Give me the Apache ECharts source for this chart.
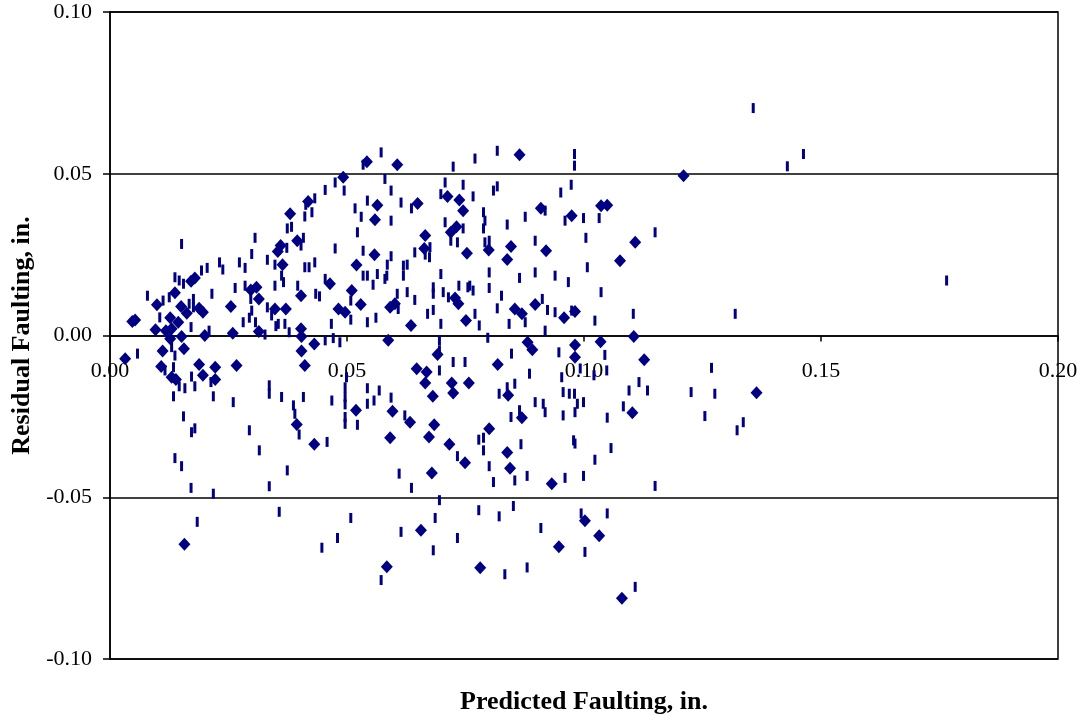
<!DOCTYPE html>
<html>
<head>
<meta charset="utf-8">
<script src="https://cdn.jsdelivr.net/npm/echarts@6/dist/echarts.min.js"></script>
<style>
  html, body { margin: 0; padding: 0; background: #fff; }
  #chart { width: 1079px; height: 717px; }
</style>
</head>
<body>
<div id="chart"></div>
<script>
// Residual vs. predicted faulting (in.) — two point sets
const xTicks = [0.00, 0.05, 0.10, 0.15, 0.20];
const yTicks = [-0.10, -0.05, 0.00, 0.05, 0.10];

// [predicted, residual] — diamond markers
const diamondPoints = [
  [0.0492,0.0489],[0.0418,0.0414],[0.0380,0.0376],[0.0395,0.0293],[0.0360,0.0278],[0.0354,0.0260],
  [0.0364,0.0219],[0.0171,0.0168],[0.0179,0.0178],[0.0309,0.0149],[0.0297,0.0141],[0.0314,0.0113],
  [0.0464,0.0160],[0.0403,0.0123],[0.0137,0.0132],[0.0099,0.0095],[0.0150,0.0090],[0.0162,0.0069],
  [0.0188,0.0084],[0.0196,0.0072],[0.0255,0.0090],[0.0348,0.0082],[0.0371,0.0082],[0.0482,0.0082],
  [0.0053,0.0048],[0.0047,0.0043],[0.0127,0.0055],[0.0144,0.0041],[0.0403,0.0021],[0.0404,-0.0003],
  [0.0096,0.0018],[0.0118,0.0015],[0.0130,0.0021],[0.0127,-0.0010],[0.0151,-0.0003],[0.0200,0.0000],
  [0.0259,0.0007],[0.0314,0.0012],[0.0431,-0.0026],[0.0156,-0.0041],[0.0111,-0.0048],[0.0032,-0.0072],
  [0.0404,-0.0048],[0.0108,-0.0096],[0.0188,-0.0090],[0.0222,-0.0098],[0.0267,-0.0093],[0.0411,-0.0093],
  [0.0196,-0.0123],[0.0130,-0.0129],[0.0139,-0.0136],[0.0222,-0.0136],[0.0394,-0.0275],[0.0431,-0.0336],
  [0.0157,-0.0645],
  [0.0542,0.0537],[0.0606,0.0528],[0.0864,0.0559],[0.0564,0.0403],[0.0649,0.0408],[0.0712,0.0430],
  [0.0737,0.0419],[0.0745,0.0386],[0.0909,0.0393],[0.0974,0.0370],[0.0559,0.0358],[0.0731,0.0336],
  [0.0719,0.0319],[0.0665,0.0309],[0.0846,0.0275],[0.0920,0.0262],[0.0799,0.0264],[0.0663,0.0269],
  [0.0753,0.0254],[0.0558,0.0250],[0.0838,0.0235],[0.0520,0.0218],
  [0.0728,0.0116],[0.0735,0.0098],[0.0510,0.0139],[0.0529,0.0096],[0.0496,0.0072],[0.0591,0.0087],
  [0.0601,0.0098],[0.0635,0.0031],[0.0751,0.0046],[0.0854,0.0082],[0.0869,0.0067],[0.0897,0.0096],
  [0.0958,0.0055],[0.0587,-0.0015],[0.0691,-0.0059],[0.0881,-0.0021],[0.0891,-0.0044],[0.0647,-0.0103],
  [0.0668,-0.0113],[0.0665,-0.0147],[0.0721,-0.0147],[0.0757,-0.0147],[0.0818,-0.0090],[0.0681,-0.0188],
  [0.0724,-0.0178],[0.0840,-0.0185],[0.0519,-0.0231],[0.0596,-0.0234],[0.0633,-0.0268],[0.0684,-0.0276],
  [0.0800,-0.0288],[0.0869,-0.0254],
  [0.0591,-0.0316],[0.0673,-0.0314],[0.0716,-0.0336],[0.0749,-0.0393],[0.0838,-0.0362],[0.0844,-0.0410],
  [0.0679,-0.0425],[0.0932,-0.0458],[0.0656,-0.0602],[0.0947,-0.0653],[0.0584,-0.0715],[0.0781,-0.0718],
  [0.1210,0.0494],[0.1036,0.0401],[0.1049,0.0403],[0.1108,0.0288],[0.1076,0.0231],[0.0981,0.0074],
  [0.1105,-0.0003],[0.0981,-0.0029],[0.1035,-0.0019],[0.0981,-0.0067],[0.1127,-0.0075],[0.1364,-0.0177],
  [0.1102,-0.0239],[0.1002,-0.0573],[0.1032,-0.0619],[0.1080,-0.0812]
];

// [predicted, residual] — short vertical dash markers
const dashPoints = [
  [0.0475,0.0473],[0.0494,0.0448],[0.0454,0.0450],[0.0432,0.0424],[0.0413,0.0404],[0.0426,0.0381],
  [0.0411,0.0368],[0.0383,0.0336],[0.0374,0.0331],[0.0306,0.0302],[0.0151,0.0283],[0.0408,0.0302],
  [0.0403,0.0278],[0.0373,0.0271],[0.0299,0.0252],[0.0332,0.0234],[0.0231,0.0226],[0.0273,0.0226],
  [0.0285,0.0209],[0.0348,0.0219],[0.0475,0.0269],[0.0432,0.0226],[0.0411,0.0211],[0.0420,0.0211],
  [0.0205,0.0209],[0.0193,0.0201],[0.0238,0.0204],
  [0.0137,0.0180],[0.0146,0.0170],[0.0155,0.0160],[0.0362,0.0185],[0.0366,0.0165],[0.0348,0.0154],
  [0.0264,0.0147],[0.0285,0.0154],[0.0297,0.0113],[0.0396,0.0154],[0.0454,0.0175],[0.0434,0.0129],
  [0.0442,0.0121],[0.0079,0.0123],[0.0125,0.0118],[0.0112,0.0108],[0.0176,0.0113],[0.0215,0.0129],
  [0.0167,0.0098],[0.0176,0.0087],[0.0299,0.0077],[0.0332,0.0087],[0.0341,0.0062],[0.0355,0.0036],
  [0.0369,0.0036],[0.0350,0.0029],[0.0105,0.0056],[0.0171,0.0026],[0.0281,0.0041],[0.0294,0.0055],
  [0.0307,0.0041],[0.0467,0.0036],[0.0378,0.0010],[0.0209,0.0015],[0.0327,0.0003],[0.0454,-0.0015],
  [0.0471,-0.0008],[0.0485,-0.0021],[0.0130,-0.0036],[0.0137,-0.0062],[0.0058,-0.0056],[0.0134,-0.0098],
  [0.0116,-0.0108],[0.0172,-0.0127],[0.0213,-0.0144],[0.0146,-0.0157],[0.0158,-0.0163],[0.0179,-0.0157],
  [0.0336,-0.0154],[0.0336,-0.0180],[0.0134,-0.0188],[0.0218,-0.0188],[0.0260,-0.0206],[0.0362,-0.0190],
  [0.0408,-0.0190],[0.0468,-0.0201],[0.0496,-0.0190],[0.0387,-0.0216],[0.0390,-0.0242],[0.0155,-0.0250],
  [0.0496,-0.0252],[0.0294,-0.0293],
  [0.0172,-0.0299],[0.0179,-0.0287],[0.0399,-0.0306],[0.0458,-0.0329],[0.0315,-0.0355],[0.0137,-0.0379],
  [0.0151,-0.0404],[0.0374,-0.0417],[0.0171,-0.0471],[0.0218,-0.0489],[0.0336,-0.0466],[0.0357,-0.0545],
  [0.0184,-0.0576],[0.0480,-0.0626],[0.0447,-0.0656],
  [0.0572,0.0566],[0.0534,0.0528],[0.0724,0.0522],[0.0770,0.0547],[0.0817,0.0571],[0.0980,0.0561],
  [0.0980,0.0525],[0.0580,0.0484],[0.0593,0.0448],[0.0707,0.0473],[0.0745,0.0466],[0.0817,0.0461],
  [0.0809,0.0448],[0.0973,0.0466],[0.0951,0.0442],[0.0543,0.0417],[0.0517,0.0393],[0.0614,0.0411],
  [0.0636,0.0393],[0.0698,0.0437],[0.0766,0.0430],[0.0788,0.0381],[0.0918,0.0386],[0.0876,0.0367],
  [0.0960,0.0355],[0.0530,0.0367],[0.0593,0.0355],[0.0707,0.0350],[0.0745,0.0331],[0.0791,0.0355],
  [0.0788,0.0331],[0.0838,0.0343],[0.0522,0.0319],[0.0719,0.0293],[0.0733,0.0288],[0.0897,0.0293],
  [0.0791,0.0288],[0.0800,0.0293],[0.0675,0.0273],[0.0665,0.0250],[0.0674,0.0242],[0.0643,0.0257],
  [0.0534,0.0262],[0.0593,0.0245],[0.0585,0.0219],[0.0619,0.0216],[0.0627,0.0219],
  [0.0698,0.0190],[0.0800,0.0195],[0.0897,0.0195],[0.0939,0.0185],[0.0967,0.0165],[0.0534,0.0185],
  [0.0543,0.0185],[0.0564,0.0190],[0.0584,0.0185],[0.0580,0.0175],[0.0619,0.0185],[0.0555,0.0157],
  [0.0864,0.0178],[0.0682,0.0149],[0.0682,0.0129],[0.0703,0.0134],[0.0714,0.0118],[0.0736,0.0154],
  [0.0755,0.0149],[0.0759,0.0154],[0.0766,0.0139],[0.0800,0.0147],[0.0826,0.0123],[0.0508,0.0108],
  [0.0508,0.0049],[0.0543,0.0041],[0.0561,0.0055],[0.0606,0.0129],[0.0627,0.0134],[0.0643,0.0110],
  [0.0608,0.0082],[0.0670,0.0067],[0.0682,0.0079],[0.0770,0.0067],[0.0779,0.0031],[0.0698,0.0036],
  [0.0817,0.0084],[0.0912,0.0113],[0.0923,0.0079],[0.0939,0.0072],[0.0974,0.0077],[0.0876,0.0041],
  [0.0842,0.0036],[0.0918,0.0015],[0.0797,-0.0007],[0.0695,-0.0015],[0.0695,-0.0046],[0.0847,-0.0056],
  [0.0947,-0.0052],[0.0724,-0.0082],[0.0749,-0.0082],[0.0695,-0.0108],[0.0885,-0.0118],[0.0953,-0.0129],
  [0.0499,-0.0129],[0.0543,-0.0163],[0.0568,-0.0170],[0.0496,-0.0160],[0.0593,-0.0192],[0.0557,-0.0201],
  [0.0543,-0.0211],[0.0821,-0.0180],[0.0838,-0.0160],[0.0854,-0.0149],[0.0897,-0.0206],[0.0914,-0.0211],
  [0.0918,-0.0237],[0.0956,-0.0175],[0.0969,-0.0180],[0.0980,-0.0180],[0.0496,-0.0213],[0.0622,-0.0247],
  [0.0496,-0.0273],[0.0522,-0.0276],[0.0846,-0.0252],[0.0864,-0.0231],[0.0956,-0.0247],
  [0.0778,-0.0322],[0.0788,-0.0316],[0.0788,-0.0355],[0.0733,-0.0373],[0.0867,-0.0336],[0.0978,-0.0324],
  [0.0981,-0.0334],[0.0800,-0.0404],[0.0610,-0.0427],[0.0636,-0.0471],[0.0809,-0.0453],[0.0854,-0.0448],
  [0.0880,-0.0434],[0.0960,-0.0440],[0.0695,-0.0509],[0.0508,-0.0564],[0.0686,-0.0564],[0.0778,-0.0540],
  [0.0821,-0.0559],[0.0851,-0.0527],[0.0909,-0.0595],[0.0614,-0.0607],[0.0733,-0.0626],[0.0682,-0.0664],
  [0.0572,-0.0756],[0.0833,-0.0738],[0.0880,-0.0717],
  [0.1357,0.0703],[0.1429,0.0523],[0.1463,0.0561],[0.0999,0.0363],[0.1032,0.0363],[0.1004,0.0302],
  [0.1150,0.0319],[0.1007,0.0211],
  [0.1036,0.0134],[0.1023,0.0046],[0.1104,0.0067],[0.1319,0.0067],[0.1044,-0.0060],[0.1048,-0.0108],
  [0.0992,-0.0102],[0.1021,-0.0123],[0.1269,-0.0100],[0.1116,-0.0144],[0.1095,-0.0170],[0.1134,-0.0170],
  [0.1226,-0.0175],[0.1276,-0.0180],[0.0986,-0.0211],[0.0999,-0.0206],[0.0981,-0.0237],[0.1083,-0.0219],
  [0.1049,-0.0254],[0.1255,-0.0249],[0.1336,-0.0268],[0.1323,-0.0293],
  [0.1057,-0.0348],[0.1023,-0.0384],[0.0999,-0.0434],[0.1150,-0.0465],[0.0994,-0.0550],[0.1049,-0.0550],
  [0.1002,-0.0669],[0.1108,-0.0777],
  [0.1765,0.0170]
];

const MARK = '#000080';
const FONT = '"Liberation Serif", "Times New Roman", serif';

const GRID = { left: 110, right: 21, top: 12, bottom: 58 };
const plotHeight = 717 - GRID.top - GRID.bottom;
const plotCenterX = GRID.left + (1079 - GRID.left - GRID.right) / 2;

const chart = echarts.init(document.getElementById('chart'), null, { renderer: 'canvas' });

chart.setOption({
  animation: false,
  backgroundColor: '#ffffff',
  grid: Object.assign({
    show: true, borderColor: '#000', borderWidth: 1.5, backgroundColor: 'transparent',
    containLabel: false, outerBoundsMode: 'none'
  }, GRID),
  xAxis: {
    type: 'value',
    min: xTicks[0], max: xTicks[xTicks.length - 1], interval: 0.05,
    // the x axis (line, ticks, labels) runs along residual = 0, mid-height of the plot
    offset: -plotHeight / 2,
    axisLine: { onZero: false, lineStyle: { color: '#000', width: 1.5 } },
    axisTick: { show: true, length: 6, lineStyle: { color: '#000', width: 1.5 } },
    axisLabel: {
      margin: 25, color: '#000', fontFamily: FONT, fontSize: 22,
      formatter: v => v.toFixed(2)
    },
    splitLine: { show: false }
  },
  yAxis: {
    type: 'value',
    min: yTicks[0], max: yTicks[yTicks.length - 1], interval: 0.05,
    name: 'Residual Faulting, in.',
    nameLocation: 'middle', nameGap: 75, nameRotate: 90,
    nameTextStyle: { color: '#000', fontFamily: FONT, fontSize: 26, fontWeight: 'bold' },
    axisLine: { show: true, lineStyle: { color: '#000', width: 1.5 } },
    axisTick: { show: true, length: 7, lineStyle: { color: '#000', width: 1.5 } },
    axisLabel: {
      margin: 18, color: '#000', fontFamily: FONT, fontSize: 22,
      formatter: v => v.toFixed(2)
    },
    splitLine: { show: true, lineStyle: { color: '#000', width: 1.5 } }
  },
  graphic: [{
    type: 'text', x: plotCenterX, y: 702,
    style: {
      text: 'Predicted Faulting, in.', fill: '#000',
      font: 'bold 26px ' + FONT, textAlign: 'center', textVerticalAlign: 'middle'
    }
  }],
  series: [
    {
      name: 'Set A', type: 'scatter', data: diamondPoints,
      symbol: 'diamond', symbolSize: [12, 13],
      itemStyle: { color: MARK, opacity: 1 }, z: 3
    },
    {
      name: 'Set B', type: 'scatter', data: dashPoints,
      symbol: 'rect', symbolSize: [3, 10],
      itemStyle: { color: MARK, opacity: 1 }, z: 2
    }
  ]
});
</script>
</body>
</html>
